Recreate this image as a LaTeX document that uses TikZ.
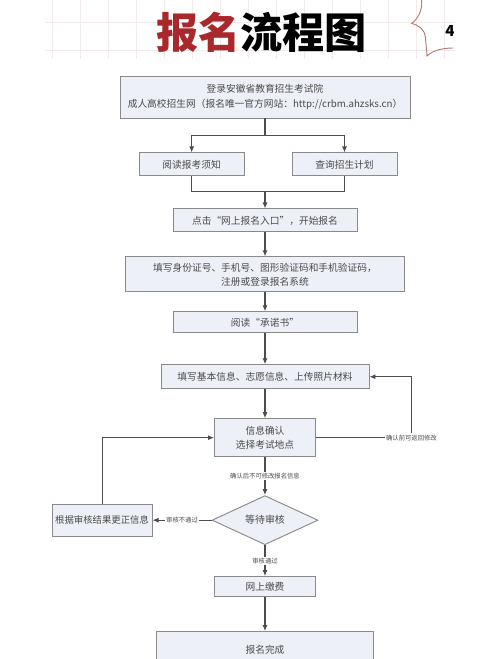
\documentclass[tikz,border=0pt]{standalone}
\usepackage{fontspec}
\setmainfont{Noto Sans CJK SC}
\usepackage{tikz}
\usetikzlibrary{shapes.geometric, arrows.meta, positioning, calc}

\definecolor{boxfill}{HTML}{EEF0F7}
\definecolor{boxline}{HTML}{8A8A8A}
\definecolor{inkgray}{HTML}{4A4A4A}
\definecolor{titlered}{HTML}{A8282B}
\definecolor{bubble}{HTML}{B57A78}
\definecolor{gridline}{HTML}{F1EBE9}

\begin{document}
\begin{tikzpicture}[
  node distance=1cm,
  box/.style={rectangle, draw=boxline, fill=boxfill, line width=0.8pt, text=inkgray, font=\fontsize{8.3}{12}\selectfont, align=center, inner sep=1pt},
  decision/.style={diamond, draw=boxline, fill=boxfill, line width=0.8pt, text=inkgray, font=\fontsize{8.5}{12}\selectfont, inner sep=0pt},
  note/.style={fill=white, text=inkgray, font=\fontsize{5.4}{7}\selectfont, inner sep=1pt},
  arrow/.style={-{Latex[length=1.8mm, width=1.5mm]}, line width=0.9pt, draw=black!70}
]
  \useasboundingbox (0,0) rectangle (15,-19.77);

  % Title strip
  \begin{scope}
    \clip (1.35,0) rectangle (13.65,-1.75);
    \draw[gridline, line width=0.5pt, shift={(0.72,-0.66)}] (-1,1) grid[step=0.84] (13.5,-1.5);
  \end{scope}
  \node[font=\fontsize{36}{38}\selectfont\bfseries] (title) at (7.85,-0.98) {\textcolor{titlered}{报名}流程图};
  \draw[bubble, line width=0.8pt] (12.65,0) .. controls (12.68,-0.35) and (12.5,-0.6) .. (12.35,-0.70)
    .. controls (12.55,-0.75) and (12.75,-0.9) .. (12.76,-1.1)
    .. controls (12.78,-1.35) and (12.8,-1.5) .. (12.81,-1.68)
    .. controls (13.0,-1.5) and (13.3,-1.44) .. (13.6,-1.44);
  \begin{scope}
    \clip (13,0) rectangle (13.6,-1.5);
    \node[font=\fontsize{13}{13}\selectfont\bfseries\itshape] (bubbletext) at (13.5,-0.93) {4};
  \end{scope}

  % Main column
  \node[box, minimum width=8.7cm, minimum height=1.26cm] (login) at (7.95,-2.91) {登录安徽省教育招生考试院\\成人高校招生网（报名唯一官方网站：http://crbm.ahzsks.cn）};
  \node[box, minimum width=3.15cm, minimum height=0.69cm, below=1.02cm of login, xshift=-2.2cm] (notice) {阅读报考须知};
  \node[box, minimum width=3.15cm, minimum height=0.69cm, below=1.02cm of login, xshift=2.385cm] (plan) {查询招生计划};
  \node[box, minimum width=5.52cm, minimum height=0.69cm, below=2.7cm of login] (entry) {点击“网上报名入口”，开始报名};
  \node[box, minimum width=8.37cm, minimum height=1.05cm, below=0.72cm of entry] (register) {填写身份证号、手机号、图形验证码和手机验证码，\\注册或登录报名系统};
  \node[box, minimum width=5.52cm, minimum height=0.63cm, below=0.57cm of register] (pledge) {阅读“承诺书”};
  \node[box, minimum width=6.24cm, minimum height=0.72cm, below=0.93cm of pledge] (basic) {填写基本信息、志愿信息、上传照片材料};
  \node[box, minimum width=3.03cm, minimum height=1.14cm, below=0.87cm of basic] (confirm) {信息确认\\选择考试地点};
  \node[decision, minimum width=3.18cm, minimum height=1.26cm, below=1.14cm of confirm] (review) {等待审核};
  \node[box, minimum width=3.0cm, minimum height=0.96cm, left=1.77cm of review, font=\fontsize{8}{12}\selectfont] (fix) {根据审核结果更正信息};
  \node[box, minimum width=3.03cm, minimum height=0.6cm, below=0.93cm of review] (pay) {网上缴费};
  \node[box, minimum width=6.51cm, minimum height=1.08cm, below=1.02cm of pay] (done) {报名完成};

  % Split and join
  \coordinate[below=0.51cm of login] (split);
  \coordinate[above=0.5cm of entry] (join);
  \draw[arrow, -] (login) -- (split);
  \draw[arrow] (split) -| (notice);
  \draw[arrow] (split) -| (plan);
  \draw[arrow, -] (notice) |- (join);
  \draw[arrow, -] (plan) |- (join);
  \draw[arrow] (join) -- (entry);

  % Straight steps
  \draw[arrow] (entry) -- (register);
  \draw[arrow] (register) -- (pledge);
  \draw[arrow] (pledge) -- (basic);
  \draw[arrow] (basic) -- (confirm);
  \draw[arrow] (confirm) -- node[note] {确认后不可修改报名信息} (review);
  \draw[arrow] (review) -- node[note] {审核通过} (pay);
  \draw[arrow] (pay) -- (done);

  % Loops back
  \coordinate (backR) at ($(basic.east)+(1.26,0)$);
  \node[note] (backnote) at (confirm -| backR) {确认前可返回修改};
  \draw[arrow, -] (confirm) -- (backnote);
  \draw[arrow] (backnote) |- (basic);
  \draw[arrow] (review) -- node[note] {审核不通过} (fix);
  \draw[arrow] (fix) |- (confirm);
\end{tikzpicture}
\end{document}
